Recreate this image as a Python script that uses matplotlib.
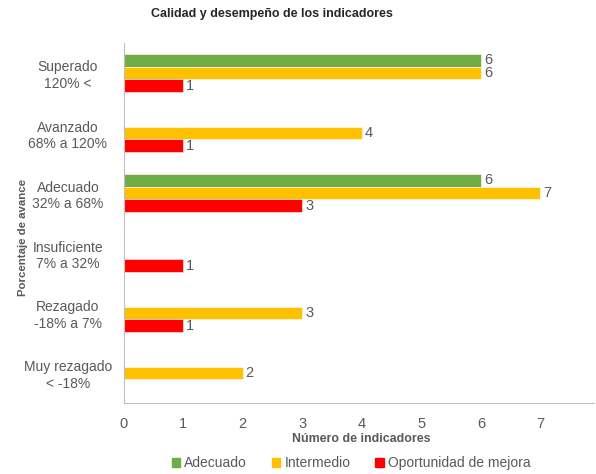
import numpy as np
import matplotlib.pyplot as plt
import matplotlib

matplotlib.rcParams['font.family'] = ['Liberation Sans', 'DejaVu Sans']

categories = ['Superado\n120% <', 'Avanzado\n68% a 120%', 'Adecuado\n32% a 68%',
              'Insuficiente\n7% a 32%', 'Rezagado\n-18% a 7%', 'Muy rezagado\n< -18%']
series = ['Adecuado', 'Intermedio', 'Oportunidad de mejora']
adecuado = [6, 0, 6, 0, 0, 0]
intermedio = [6, 4, 7, 0, 3, 2]
oportunidad = [1, 1, 3, 1, 1, 0]
colors = ['#70AD47', '#FFC000', '#FF0000']

txt = '#595959'
fig = plt.figure(figsize=(5.96, 4.74), dpi=100)
ax = fig.add_axes([123.5/596, 1 - 403/474, (594 - 123.5)/596, (403 - 43)/474])

y = np.arange(len(categories))
h = 0.21
for i, (vals, col, name) in enumerate(zip([adecuado, intermedio, oportunidad], colors, series)):
    pos = y + (i - 1) * h
    ax.barh(pos, vals, height=h, color=col, edgecolor='white', linewidth=0.4, label=name)
    for p, v in zip(pos, vals):
        if v > 0:
            ax.text(v + 0.05, p, str(v), va='center', ha='left', fontsize=10.5, color=txt)

ax.set_ylim(len(categories) - 0.5, -0.5)
ax.set_xlim(0, 7.9)
ax.set_xticks(range(8))
ax.set_yticks(y)
ax.set_yticklabels(categories, fontsize=10, color=txt, ha='center')
ax.tick_params(axis='y', length=0, pad=40)
ax.tick_params(axis='x', length=0, pad=10, labelsize=10.5, labelcolor=txt)
for s in ['top', 'right']:
    ax.spines[s].set_visible(False)
for s in ['left', 'bottom']:
    ax.spines[s].set_color('#BFBFBF')
    ax.spines[s].set_linewidth(0.8)

# title font in the original is a condensed bold; shrink a bit to keep the width
fig.text(272/596, 1 - 14/474, 'Calidad y desempeño de los indicadores', ha='center', va='center',
         fontsize=9, fontweight='bold', color='#262626')
fig.text(23/596, 1 - 237/474, 'Porcentaje de avance', rotation=90, ha='center', va='center',
         fontsize=8.2, fontweight='bold', color=txt)
fig.text(361/596, 1 - 439/474, 'Número de indicadores', ha='center', va='center',
         fontsize=8.9, fontweight='bold', color=txt)

handles = [matplotlib.patches.Patch(color=c) for c in colors]
fig.legend(handles, series, loc='center', bbox_to_anchor=(351/596, 1 - 463/474), ncol=3,
           frameon=False, fontsize=10, handlelength=0.6, handleheight=0.6, handletextpad=0.3,
           columnspacing=1.8, labelcolor=txt)

plt.savefig('out.png', dpi=100)
